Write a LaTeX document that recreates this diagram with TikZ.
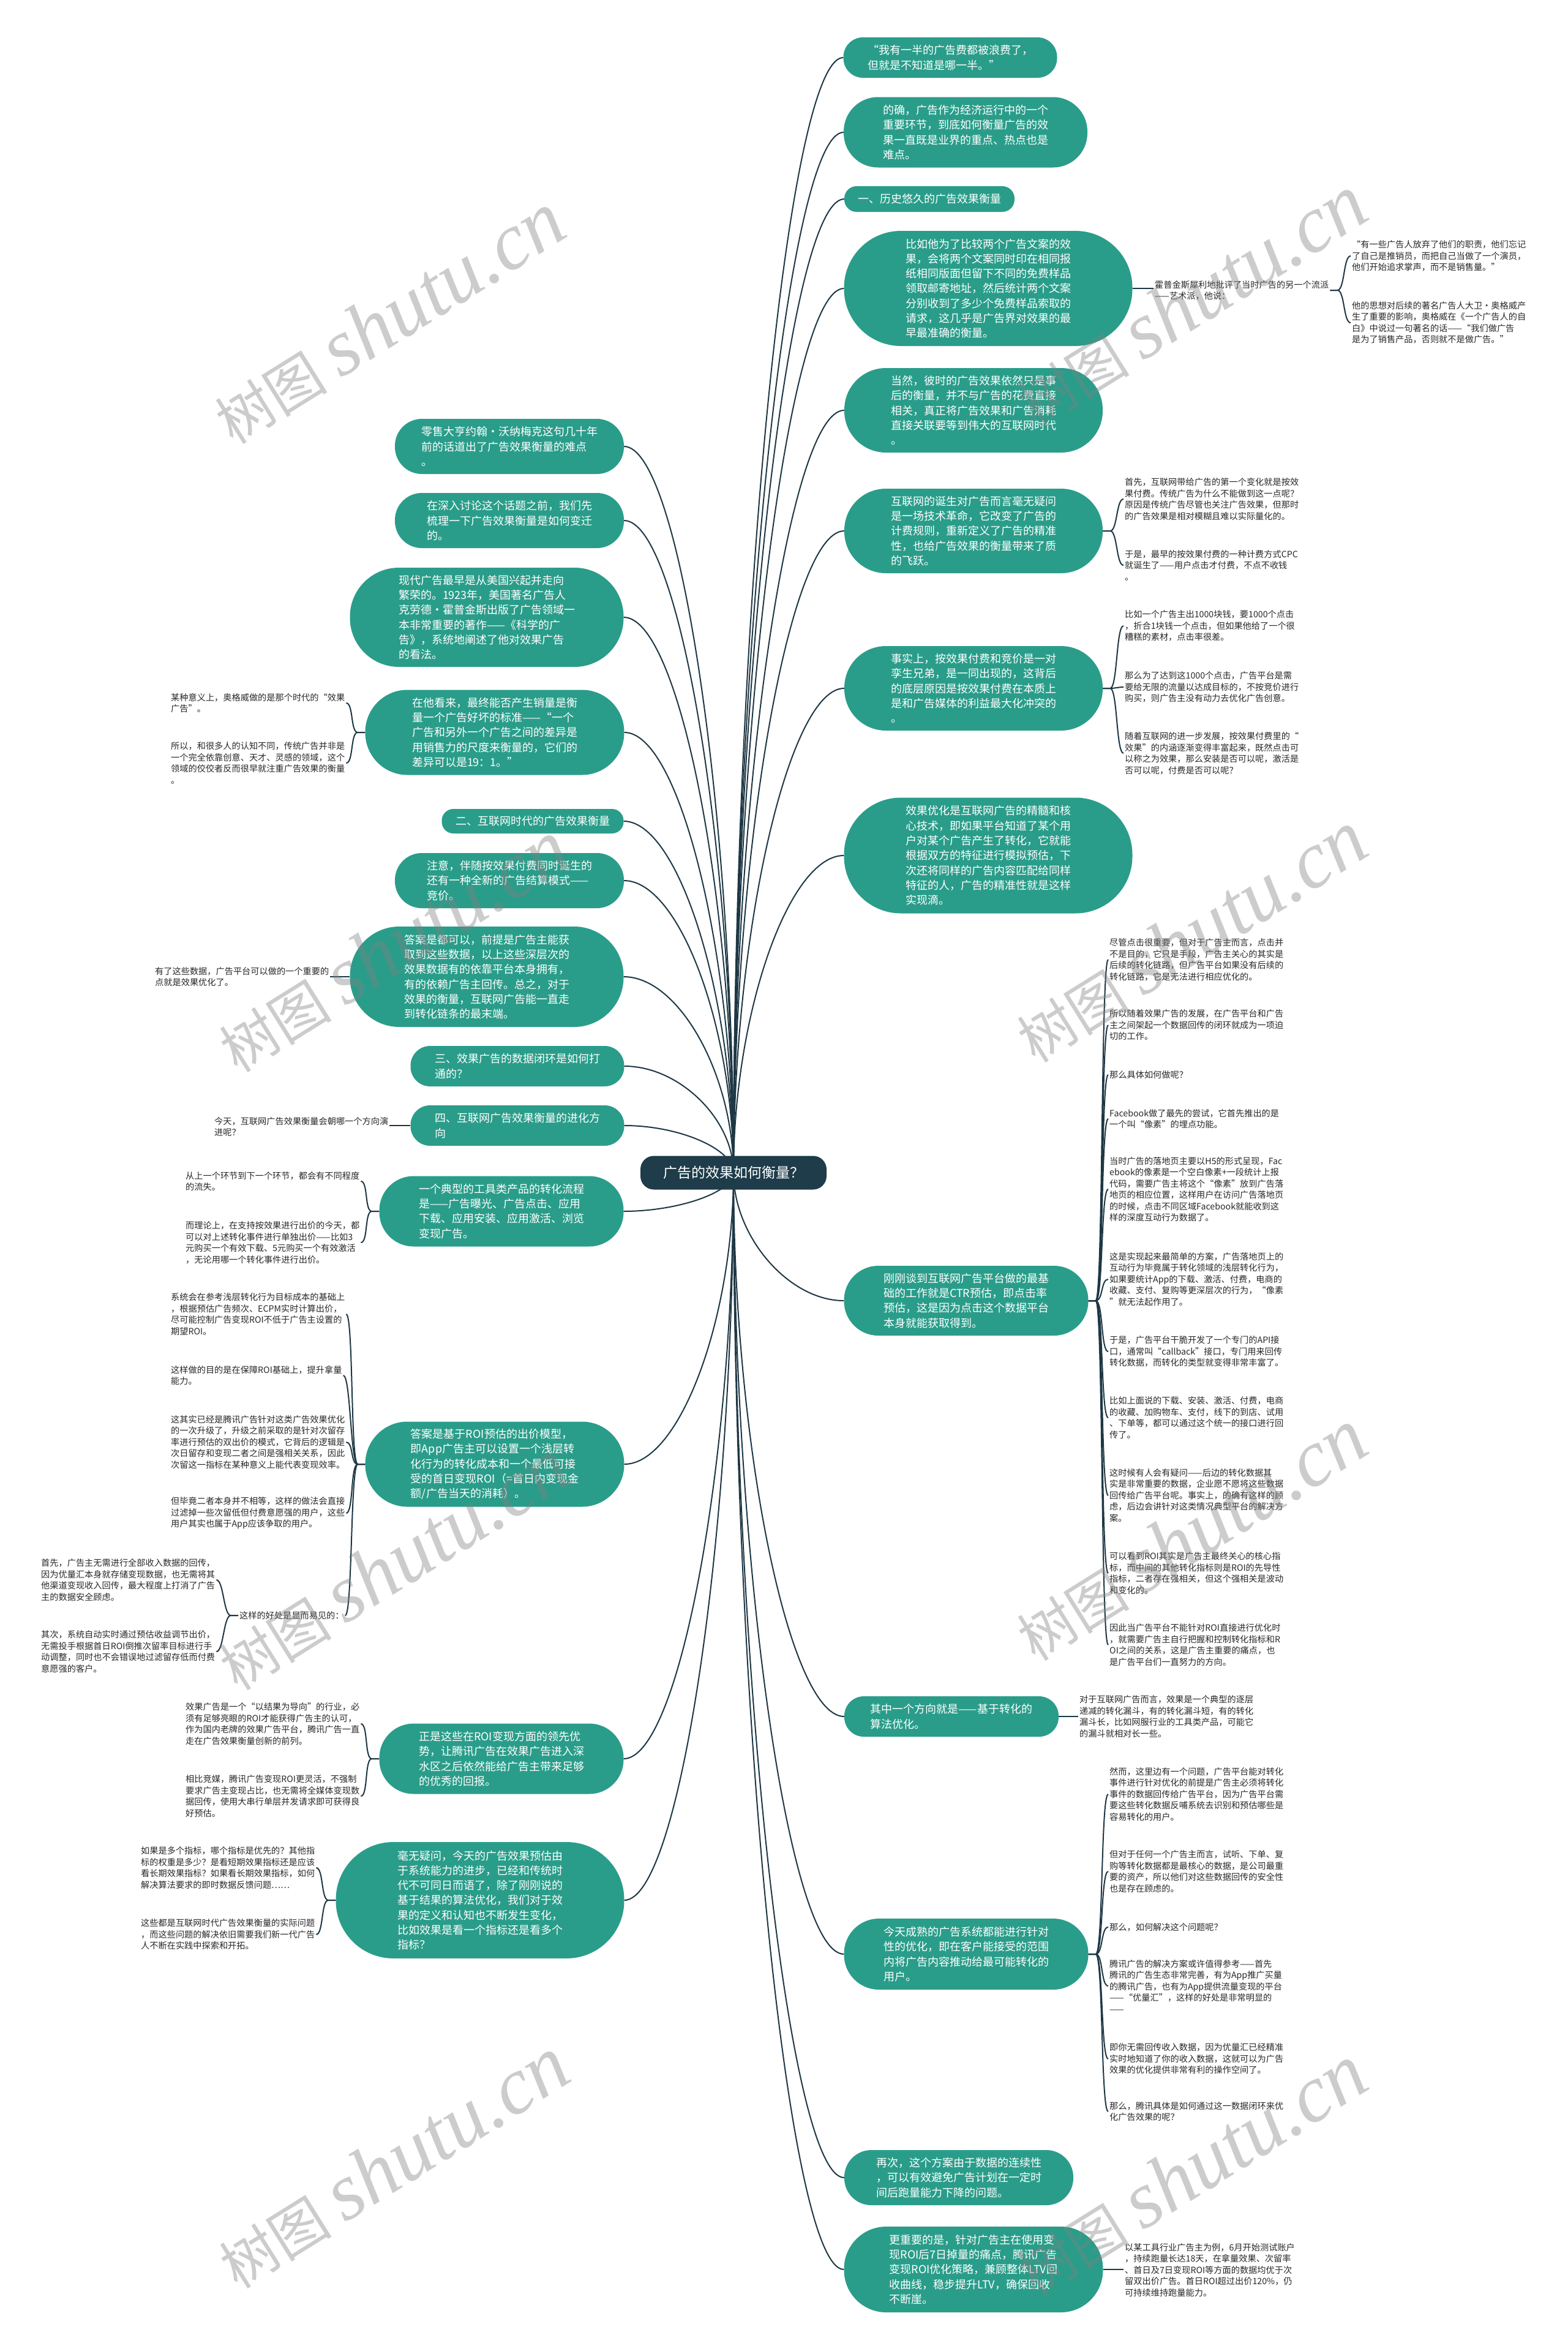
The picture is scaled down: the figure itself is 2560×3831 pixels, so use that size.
\documentclass[tikz,border=0pt]{standalone}
\usepackage{fontspec}
\setmainfont{Noto Sans CJK SC}
\newfontfamily\wmfont{Liberation Serif}
\usetikzlibrary{calc,backgrounds}
\definecolor{tealn}{RGB}{42,157,138}
\definecolor{darkn}{RGB}{30,60,74}
\definecolor{linec}{RGB}{30,55,68}
\definecolor{txt}{RGB}{40,40,40}
\tikzset{
 tnode/.style={fill=tealn, text=white, font=\fontsize{18}{24.3}\selectfont, align=left, inner sep=0pt},
 rootn/.style={fill=darkn, text=white, font=\fontsize{23}{28}\selectfont, rounded corners=22pt, minimum width=304pt, minimum height=55pt, inner sep=0pt},
 ctext/.style={text=txt, font=\fontsize{14.2}{18.5}\selectfont, align=left, inner sep=2pt, anchor=west},
 conn/.style={draw=linec, line width=2pt},
 br/.style={conn, max distance=12pt},
}
\newcommand\mkT[7]{\node[tnode, minimum width=#4pt, minimum height=#5pt, rounded corners=#6pt] (#1) at (#2,#3) {#7};}
\newcommand\mkC[4]{\node[ctext] (#1) at (#2,#3) {#4};}
\newcommand\rbr[2]{\draw[br] (#1.east) -- ++(12,0) to[out=0,in=180] (#2.west);}
\newcommand\lbr[2]{\draw[br] (#1.west) -- ++(-12,0) to[out=180,in=0] (#2.east);}
\newcommand\redge[1]{\draw[conn] (root.center) .. controls ($(root.center)!0.5!(root.center |- #1.west)$) and ($(#1.west)+(-90,0)$) .. (#1.west);}
\newcommand\ledge[1]{\draw[conn] (root.center) .. controls ($(root.center)!0.5!(root.center |- #1.east)$) and ($(#1.east)+(90,0)$) .. (#1.east);}
\begin{document}
\begin{tikzpicture}[x=1pt,y=-1pt]
\useasboundingbox (0,0) rectangle (2560,3831);
% root
\node[rootn] (root) at (1198,1915) {广告的效果如何衡量？};
% right main nodes
\mkT{R1}{1552}{94}{349}{66}{32}{“我有一半的广告费都被浪费了，\\但就是不知道是哪一半。”}
\mkT{R2}{1577}{216}{398}{115}{56}{的确，广告作为经济运行中的一个\\重要环节，到底如何衡量广告的效\\果一直既是业界的重点、热点也是\\难点。}
\mkT{R3}{1518}{325}{278}{42}{20}{一、历史悠久的广告效果衡量}
\mkT{R4}{1614}{471}{471}{188}{93}{比如他为了比较两个广告文案的效\\果，会将两个文案同时印在相同报\\纸相同版面但留下不同的免费样品\\领取邮寄地址，然后统计两个文案\\分别收到了多少个免费样品索取的\\请求，这几乎是广告界对效果的最\\早最准确的衡量。}
\mkT{R5}{1590}{670}{422}{138}{68}{当然，彼时的广告效果依然只是事\\后的衡量，并不与广告的花费直接\\相关，真正将广告效果和广告消耗\\直接关联要等到伟大的互联网时代\\。}
\mkT{R6}{1590}{867}{422}{138}{68}{互联网的诞生对广告而言毫无疑问\\是一场技术革命，它改变了广告的\\计费规则，重新定义了广告的精准\\性，也给广告效果的衡量带来了质\\的飞跃。}
\mkT{R7}{1590}{1124}{422}{138}{68}{事实上，按效果付费和竞价是一对\\孪生兄弟，是一同出现的，这背后\\的底层原因是按效果付费在本质上\\是和广告媒体的利益最大化冲突的\\。}
\mkT{R8}{1614}{1397}{471}{189}{93}{效果优化是互联网广告的精髓和核\\心技术，即如果平台知道了某个用\\户对某个广告产生了转化，它就能\\根据双方的特征进行模拟预估，下\\次还将同样的广告内容匹配给同样\\特征的人，广告的精准性就是这样\\实现滴。}
\mkT{R9}{1578}{2124}{399}{114}{56}{刚刚谈到互联网广告平台做的最基\\础的工作就是CTR预估，即点击率\\预估，这是因为点击这个数据平台\\本身就能获取得到。}
\mkT{R10}{1554}{2803}{350}{66}{32}{其中一个方向就是——基于转化的\\算法优化。}
\mkT{R11}{1578}{3191}{399}{116}{57}{今天成熟的广告系统都能进行针对\\性的优化，即在客户能接受的范围\\内将广告内容推动给最可能转化的\\用户。}
\mkT{R12}{1566}{3556}{374}{90}{44}{再次，这个方案由于数据的连续性\\，可以有效避免广告计划在一定时\\间后跑量能力下降的问题。}
\mkT{R13}{1590}{3706}{423}{140}{69}{更重要的是，针对广告主在使用变\\现ROI后7日掉量的痛点，腾讯广告\\变现ROI优化策略，兼顾整体LTV回\\收曲线，稳步提升LTV，确保回收\\不断崖。}
% left main nodes
\mkT{L1}{832}{729}{374}{90}{44}{零售大亨约翰·沃纳梅克这句几十年\\前的话道出了广告效果衡量的难点\\。}
\mkT{L2}{832}{850}{374}{90}{44}{在深入讨论这个话题之前，我们先\\梳理一下广告效果衡量是如何变迁\\的。}
\mkT{L3}{795}{1008}{447}{162}{80}{现代广告最早是从美国兴起并走向\\繁荣的。1923年，美国著名广告人\\克劳德·霍普金斯出版了广告领域一\\本非常重要的著作——《科学的广\\告》，系统地阐述了他对效果广告\\的看法。}
\mkT{L4}{808}{1196}{423}{139}{69}{在他看来，最终能否产生销量是衡\\量一个广告好坏的标准——“一个\\广告和另外一个广告之间的差异是\\用销售力的尺度来衡量的，它们的\\差异可以是19：1。”}
\mkT{L5}{870}{1341}{297}{40}{19}{二、互联网时代的广告效果衡量}
\mkT{L6}{832}{1438}{374}{90}{44}{注意，伴随按效果付费同时诞生的\\还有一种全新的广告结算模式——\\竞价。}
\mkT{L7}{795}{1595}{447}{164}{81}{答案是都可以，前提是广告主能获\\取到这些数据，以上这些深层次的\\效果数据有的依靠平台本身拥有，\\有的依赖广告主回传。总之，对于\\效果的衡量，互联网广告能一直走\\到转化链条的最末端。}
\mkT{L8}{845}{1741}{349}{66}{32}{三、效果广告的数据闭环是如何打\\通的？}
\mkT{L9}{845}{1838}{349}{66}{32}{四、互联网广告效果衡量的进化方\\向}
\mkT{L10}{819}{1978}{399}{115}{56}{一个典型的工具类产品的转化流程\\是——广告曝光、广告点击、应用\\下载、应用安装、应用激活、浏览\\变现广告。}
\mkT{L11}{808}{2391}{423}{139}{69}{答案是基于ROI预估的出价模型，\\即App广告主可以设置一个浅层转\\化行为的转化成本和一个最低可接\\受的首日变现ROI（=首日内变现金\\额/广告当天的消耗）。}
\mkT{L12}{819}{2872}{399}{115}{56}{正是这些在ROI变现方面的领先优\\势，让腾讯广告在效果广告进入深\\水区之后依然能给广告主带来足够\\的优秀的回报。}
\mkT{L13}{784}{3103}{471}{190}{94}{毫无疑问，今天的广告效果预估由\\于系统能力的进步，已经和传统时\\代不可同日而语了，除了刚刚说的\\基于结果的算法优化，我们对于效\\果的定义和认知也不断发生变化，\\比如效果是看一个指标还是看多个\\指标？}
% right children
\mkC{h0}{1884}{474}{霍普金斯犀利地批评了当时广告的另一个流派\\——艺术派，他说：}
\mkC{h1}{2206}{418}{“有一些广告人放弃了他们的职责，他们忘记\\了自己是推销员，而把自己当做了一个演员，\\他们开始追求掌声，而不是销售量。”}
\mkC{h2}{2206}{527}{他的思想对后续的著名广告人大卫•奥格威产\\生了重要的影响，奥格威在《一个广告人的自\\白》中说过一句著名的话——“我们做广告\\是为了销售产品，否则就不是做广告。”}
\mkC{r6a}{1835}{815}{首先，互联网带给广告的第一个变化就是按效\\果付费。传统广告为什么不能做到这一点呢？\\原因是传统广告尽管也关注广告效果，但那时\\的广告效果是相对模糊且难以实际量化的。}
\mkC{r6b}{1835}{923}{于是，最早的按效果付费的一种计费方式CPC\\就诞生了——用户点击才付费，不点不收钱\\。}
\mkC{r7a}{1835}{1022}{比如一个广告主出1000块钱，要1000个点击\\，折合1块钱一个点击，但如果他给了一个很\\糟糕的素材，点击率很差。}
\mkC{r7b}{1835}{1122}{那么为了达到这1000个点击，广告平台是需\\要给无限的流量以达成目标的，不按竞价进行\\购买，则广告主没有动力去优化广告创意。}
\mkC{r7c}{1835}{1230}{随着互联网的进一步发展，按效果付费里的“\\效果”的内涵逐渐变得丰富起来，既然点击可\\以称之为效果，那么安装是否可以呢，激活是\\否可以呢，付费是否可以呢？}
\mkC{r9a}{1810}{1567}{尽管点击很重要，但对于广告主而言，点击并\\不是目的，它只是手段，广告主关心的其实是\\后续的转化链路，但广告平台如果没有后续的\\转化链路，它是无法进行相应优化的。}
\mkC{r9b}{1810}{1674}{所以随着效果广告的发展，在广告平台和广告\\主之间架起一个数据回传的闭环就成为一项迫\\切的工作。}
\mkC{r9c}{1810}{1755}{那么具体如何做呢？}
\mkC{r9d}{1810}{1827}{Facebook做了最先的尝试，它首先推出的是\\一个叫“像素”的埋点功能。}
\mkC{r9e}{1810}{1942}{当时广告的落地页主要以H5的形式呈现，Fac\\ebook的像素是一个空白像素+一段统计上报\\代码，需要广告主将这个“像素”放到广告落\\地页的相应位置，这样用户在访问广告落地页\\的时候，点击不同区域Facebook就能收到这\\样的深度互动行为数据了。}
\mkC{r9f}{1810}{2089}{这是实现起来最简单的方案，广告落地页上的\\互动行为毕竟属于转化领域的浅层转化行为，\\如果要统计App的下载、激活、付费，电商的\\收藏、支付、复购等更深层次的行为，“像素\\”就无法起作用了。}
\mkC{r9g}{1810}{2207}{于是，广告平台干脆开发了一个专门的API接\\口，通常叫“callback”接口，专门用来回传\\转化数据，而转化的类型就变得非常丰富了。}
\mkC{r9h}{1810}{2315}{比如上面说的下载、安装、激活、付费，电商\\的收藏、加购物车、支付，线下的到店、试用\\、下单等，都可以通过这个统一的接口进行回\\传了。}
\mkC{r9i}{1810}{2442}{这时候有人会有疑问——后边的转化数据其\\实是非常重要的数据，企业愿不愿将这些数据\\回传给广告平台呢。事实上，的确有这样的顾\\虑，后边会讲针对这类情况典型平台的解决方\\案。}
\mkC{r9j}{1810}{2569}{可以看到ROI其实是广告主最终关心的核心指\\标，而中间的其他转化指标则是ROI的先导性\\指标，二者存在强相关，但这个强相关是波动\\和变化的。}
\mkC{r9k}{1810}{2686}{因此当广告平台不能针对ROI直接进行优化时\\，就需要广告主自行把握和控制转化指标和R\\OI之间的关系，这是广告主重要的痛点，也\\是广告平台们一直努力的方向。}
\mkC{r10a}{1761}{2803}{对于互联网广告而言，效果是一个典型的逐层\\递减的转化漏斗，有的转化漏斗短，有的转化\\漏斗长，比如网服行业的工具类产品，可能它\\的漏斗就相对长一些。}
\mkC{r11a}{1810}{2930}{然而，这里边有一个问题，广告平台能对转化\\事件进行针对优化的前提是广告主必须将转化\\事件的数据回传给广告平台，因为广告平台需\\要这些转化数据反哺系统去识别和预估哪些是\\容易转化的用户。}
\mkC{r11b}{1810}{3056}{但对于任何一个广告主而言，试听、下单、复\\购等转化数据都是最核心的数据，是公司最重\\要的资产，所以他们对这些数据回传的安全性\\也是存在顾虑的。}
\mkC{r11c}{1810}{3147}{那么，如何解决这个问题呢？}
\mkC{r11d}{1810}{3243}{腾讯广告的解决方案或许值得参考——首先\\腾讯的广告生态非常完善，有为App推广买量\\的腾讯广告，也有为App提供流量变现的平台\\——“优量汇”，这样的好处是非常明显的\\——}
\mkC{r11e}{1810}{3362}{即你无需回传收入数据，因为优量汇已经精准\\实时地知道了你的收入数据，这就可以为广告\\效果的优化提供非常有利的操作空间了。}
\mkC{r11f}{1810}{3448}{那么，腾讯具体是如何通过这一数据闭环来优\\化广告效果的呢？}
\mkC{r13a}{1835}{3707}{以某工具行业广告主为例，6月开始测试账户\\，持续跑量长达18天，在拿量效果、次留率\\、首日及7日变现ROI等方面的数据均优于次\\留双出价广告。首日ROI超过出价120\%，仍\\可持续维持跑量能力。}
% left children
\mkC{l4a}{277}{1148}{某种意义上，奥格威做的是那个时代的“效果\\广告”。}
\mkC{l4b}{277}{1246}{所以，和很多人的认知不同，传统广告并非是\\一个完全依靠创意、天才、灵感的领域，这个\\领域的佼佼者反而很早就注重广告效果的衡量\\。}
\mkC{l7a}{251}{1595}{有了这些数据，广告平台可以做的一个重要的\\点就是效果优化了。}
\mkC{l9a}{348}{1840}{今天，互联网广告效果衡量会朝哪一个方向演\\进呢？}
\mkC{l10a}{301}{1929}{从上一个环节到下一个环节，都会有不同程度\\的流失。}
\mkC{l10b}{301}{2029}{而理论上，在支持按效果进行出价的今天，都\\可以对上述转化事件进行单独出价——比如3\\元购买一个有效下载、5元购买一个有效激活\\，无论用哪一个转化事件进行出价。}
\mkC{l11a}{277}{2146}{系统会在参考浅层转化行为目标成本的基础上\\，根据预估广告频次、ECPM实时计算出价，\\尽可能控制广告变现ROI不低于广告主设置的\\期望ROI。}
\mkC{l11b}{277}{2246}{这样做的目的是在保障ROI基础上，提升拿量\\能力。}
\mkC{l11c}{277}{2355}{这其实已经是腾讯广告针对这类广告效果优化\\的一次升级了，升级之前采取的是针对次留存\\率进行预估的双出价的模式，它背后的逻辑是\\次日留存和变现二者之间是强相关关系，因此\\次留这一指标在某种意义上能代表变现效率。}
\mkC{l11d}{277}{2471}{但毕竟二者本身并不相等，这样的做法会直接\\过滤掉一些次留低但付费意愿强的用户，这些\\用户其实也属于App应该争取的用户。}
\mkC{l11e}{389}{2638}{这样的好处是显而易见的：}
\mkC{l11f}{65}{2580}{首先，广告主无需进行全部收入数据的回传，\\因为优量汇本身就存储变现数据，也无需将其\\他渠道变现收入回传，最大程度上打消了广告\\主的数据安全顾虑。}
\mkC{l11g}{65}{2697}{其次，系统自动实时通过预估收益调节出价，\\无需投手根据首日ROI倒推次留率目标进行手\\动调整，同时也不会错误地过滤留存低而付费\\意愿强的客户。}
\mkC{l12a}{301}{2815}{效果广告是一个“以结果为导向”的行业，必\\须有足够亮眼的ROI才能获得广告主的认可，\\作为国内老牌的效果广告平台，腾讯广告一直\\走在广告效果衡量创新的前列。}
\mkC{l12b}{301}{2933}{相比竞媒，腾讯广告变现ROI更灵活，不强制\\要求广告主变现占比，也无需将全媒体变现数\\据回传，使用大串行单层并发请求即可获得良\\好预估。}
\mkC{l13a}{228}{3050}{如果是多个指标，哪个指标是优先的？其他指\\标的权重是多少？是看短期效果指标还是应该\\看长期效果指标？如果看长期效果指标，如何\\解决算法要求的即时数据反馈问题……}
\mkC{l13b}{228}{3159}{这些都是互联网时代广告效果衡量的实际问题\\，而这些问题的解决依旧需要我们新一代广告\\人不断在实践中探索和开拓。}
\begin{pgfonlayer}{background}
\fill[white] (0,0) rectangle (2560,3831);
\foreach \n in {R1,R2,R3,R4,R5,R6,R7,R8,R9,R10,R11,R12,R13} {\redge{\n}}
\foreach \n in {L1,L2,L3,L4,L5,L6,L7,L8,L9,L10,L11,L12,L13} {\ledge{\n}}
\draw[conn] (R4.east) -- (R4.east -| h0.west);
\rbr{h0}{h1} \rbr{h0}{h2}
\rbr{R6}{r6a} \rbr{R6}{r6b}
\rbr{R7}{r7a} \rbr{R7}{r7b} \rbr{R7}{r7c}
\foreach \c in {r9a,r9b,r9c,r9d,r9e,r9f,r9g,r9h,r9i,r9j,r9k} {\rbr{R9}{\c}}
\draw[conn] (R10.east) -- (R10.east -| r10a.west);
\foreach \c in {r11a,r11b,r11c,r11d,r11e,r11f} {\rbr{R11}{\c}}
\draw[conn] (R13.east) -- (R13.east -| r13a.west);
\lbr{L4}{l4a} \lbr{L4}{l4b}
\draw[conn] (L7.west) -- (L7.west -| l7a.east);
\draw[conn] (L9.west) -- (L9.west -| l9a.east);
\lbr{L10}{l10a} \lbr{L10}{l10b}
\foreach \c in {l11a,l11b,l11c,l11d,l11e} {\lbr{L11}{\c}}
\lbr{l11e}{l11f} \lbr{l11e}{l11g}
\lbr{L12}{l12a} \lbr{L12}{l12b}
\lbr{L13}{l13a} \lbr{L13}{l13b}
\end{pgfonlayer}
% watermarks
\foreach \x/\y [count=\i] in {635/520, 1945/492, 642/1546, 1945/1530, 642/2555, 1945/2507, 642/3532, 1945/3545}
  \node[rotate=32, opacity=0.4, text=gray, inner sep=0pt] (wm\i) at (\x,\y) {{\fontsize{92}{96}\selectfont 树图}\hspace{22pt}{\wmfont\itshape\fontsize{132}{132}\selectfont shutu.cn}};
\end{tikzpicture}
\end{document}
